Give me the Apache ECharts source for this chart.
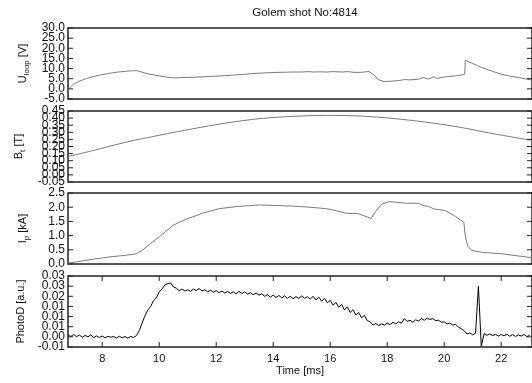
<!DOCTYPE html>
<html>
<head>
<meta charset="utf-8">
<script src="https://cdn.jsdelivr.net/npm/echarts@6/dist/echarts.min.js"></script>
<style>
  html, body { margin: 0; padding: 0; background: #fff; }
  #chart { width: 532px; height: 383px; }
</style>
</head>
<body>
<div id="chart"></div>
<script>
// time axis
const timeMin = 6.8;
const timeMax = 23.08;
const timeTicks = [8, 10, 12, 14, 16, 18, 20, 22];

// U_loop [V]
const uloop = [
  [6.8, -0.3], [6.85, 0.0], [6.99, 2.3], [7.22, 3.9], [7.45, 5.1], [7.69, 6.1], [7.98, 7.0],
  [8.27, 7.7], [8.55, 8.3], [8.85, 8.7], [9.05, 8.9], [9.2, 9.0], [9.32, 8.6], [9.5, 7.8],
  [9.67, 7.2], [10.02, 6.4], [10.25, 5.8], [10.48, 5.4], [10.95, 5.6], [11.35, 5.8], [11.76, 6.1],
  [12.2, 6.4], [12.58, 6.8], [12.9, 7.1], [13.1, 7.3], [13.28, 7.6], [13.5, 7.7], [13.7, 7.9],
  [14.1, 8.1], [14.4, 8.2], [14.7, 8.3], [15.0, 8.3], [15.26, 8.5], [15.4, 8.3], [15.6, 8.4],
  [15.9, 8.3], [16.1, 8.5], [16.43, 8.3], [16.6, 8.5], [16.8, 8.2], [17.0, 8.1], [17.2, 8.3],
  [17.36, 8.6], [17.53, 6.9], [17.71, 4.4], [17.88, 3.6], [18.17, 3.8], [18.4, 4.1], [18.64, 4.6],
  [18.8, 4.4], [19.1, 4.8], [19.28, 5.6], [19.4, 4.9], [19.5, 5.0], [19.63, 6.1], [19.72, 5.2],
  [19.81, 5.3], [19.95, 5.7], [20.16, 6.1], [20.4, 6.4], [20.62, 6.9], [20.72, 7.2], [20.74, 14.1],
  [20.97, 12.7], [21.2, 11.2], [21.44, 9.9], [21.7, 8.6], [22.02, 7.2], [22.3, 6.3], [22.6, 5.6],
  [23.08, 4.3]
];
const uloopTickValues = [-5, 0, 5, 10, 15, 20, 25, 30];
const uloopTickLabels = ['-5.0', '0.0', '5.0', '10.0', '15.0', '20.0', '25.0', '30.0'];

// B_t [T]
const bt = [
  [6.8, 0.129], [7.69, 0.172], [8.85, 0.231], [10.02, 0.28], [11.18, 0.325], [12.35, 0.365],
  [13.51, 0.396], [14.68, 0.412], [15.84, 0.419], [17.0, 0.415], [18.17, 0.398], [19.34, 0.372],
  [20.51, 0.337], [21.67, 0.292], [23.08, 0.243]
];
const btTickValues = [-0.05, 0, 0.05, 0.1, 0.15, 0.2, 0.25, 0.3, 0.35, 0.4, 0.45];
const btTickLabels = ['-0.05', '0.00', '0.05', '0.10', '0.15', '0.20', '0.25', '0.30', '0.35', '0.40', '0.45'];

// I_p [kA]
const ip = [
  [6.8, 0.03], [7.69, 0.17], [8.27, 0.25], [8.85, 0.31], [9.2, 0.36], [9.38, 0.46], [9.67, 0.70],
  [10.02, 0.97], [10.48, 1.36], [10.95, 1.58], [11.53, 1.79], [12.11, 1.95], [12.7, 2.02],
  [13.51, 2.08], [14.1, 2.06], [14.68, 2.04], [15.26, 2.0], [15.84, 1.95], [16.2, 1.88],
  [16.54, 1.79], [17.0, 1.77], [17.36, 1.63], [17.44, 1.61], [17.59, 1.85], [17.83, 2.12],
  [18.06, 2.19], [18.29, 2.18], [18.64, 2.14], [19.1, 2.14], [19.28, 2.05], [19.45, 2.03],
  [19.63, 1.94], [20.04, 1.88], [20.39, 1.68], [20.69, 1.46], [20.74, 0.97], [20.83, 0.62],
  [20.97, 0.48], [21.32, 0.41], [22.02, 0.36], [23.08, 0.22]
];
const ipTickValues = [0, 0.5, 1, 1.5, 2, 2.5];
const ipTickLabels = ['0.0', '0.5', '1.0', '1.5', '2.0', '2.5'];

// PhotoD [a.u.], sampled every 0.1 ms from 6.8 ms
const photoStart = 6.8;
const photoStep = 0.1;
const photo = [
  0.0008, 0.0002, 0.0012, 0.0001, 0.0009, -0.0002, 0.0007, 0.0000, 0.0010, -0.0004,
  0.0005, -0.0003, 0.0004, -0.0005, 0.0003, -0.0002, 0.0002, -0.0006, 0.0003, -0.0004,
  0.0001, -0.0006, 0.0002, -0.0003, 0.0006, 0.0030, 0.0068, 0.0104, 0.0132, 0.0150,
  0.0178, 0.0192, 0.0222, 0.0236, 0.0256, 0.0262, 0.0266, 0.0246, 0.0240, 0.0228,
  0.0236, 0.0226, 0.0232, 0.0224, 0.0236, 0.0228, 0.0238, 0.0226, 0.0232, 0.0222,
  0.0230, 0.0220, 0.0228, 0.0218, 0.0226, 0.0216, 0.0224, 0.0214, 0.0222, 0.0212,
  0.0224, 0.0214, 0.0222, 0.0210, 0.0218, 0.0208, 0.0216, 0.0206, 0.0212, 0.0200,
  0.0208, 0.0196, 0.0206, 0.0194, 0.0204, 0.0192, 0.0202, 0.0190, 0.0200, 0.0188,
  0.0198, 0.0190, 0.0202, 0.0190, 0.0198, 0.0186, 0.0200, 0.0182, 0.0196, 0.0176,
  0.0190, 0.0168, 0.0180, 0.0156, 0.0170, 0.0146, 0.0160, 0.0132, 0.0148, 0.0120,
  0.0134, 0.0108, 0.0120, 0.0094, 0.0106, 0.0080, 0.0074, 0.0058, 0.0066, 0.0056,
  0.0064, 0.0058, 0.0068, 0.0060, 0.0072, 0.0064, 0.0074, 0.0068, 0.0090, 0.0076,
  0.0082, 0.0072, 0.0084, 0.0078, 0.0090, 0.0082, 0.0092, 0.0086, 0.0090, 0.0080,
  0.0082, 0.0072, 0.0074, 0.0064, 0.0068, 0.0058, 0.0062, 0.0048, 0.0040, 0.0030,
  0.0014, 0.0020, 0.0010, 0.0018, 0.0250, -0.0046, 0.0016, 0.0008, 0.0014, 0.0006,
  0.0012, 0.0004, 0.0012, 0.0005, 0.0013, 0.0003, 0.0011, 0.0002, 0.0010, 0.0004,
  0.0012, 0.0001, 0.0008
];
const photoTickValues = [-0.005, 0, 0.005, 0.01, 0.015, 0.02, 0.025, 0.03];
const photoTickLabels = ['-0.01', '0.00', '0.01', '0.01', '0.01', '0.02', '0.03', '0.03'];

const FONT = 'Liberation Sans';
const INK = '#111';
const FRAME = '#222';
const TICK_LEN = 5;
const panelTops = [28, 111, 193, 276];
const panelHeight = 71;
const LABEL_GROUPS = 3; // labels split over several axes so ECharts keeps all of them

const chart = echarts.init(document.getElementById('chart'));

function labelFor(values, labels) {
  return function (v) {
    const i = values.findIndex(x => Math.abs(x - v) < 1e-9);
    return i < 0 ? '' : labels[i];
  };
}

const panels = [
  { name: '{m|U}{s|loop}{m| [V]}', values: uloopTickValues, labels: uloopTickLabels, data: uloop, color: '#7a7a7a' },
  { name: '{m|B}{s|t}{m| [T]}', values: btTickValues, labels: btTickLabels, data: bt, color: '#7a7a7a', smooth: 0.3 },
  { name: '{m|I}{s|p}{m| [kA]}', values: ipTickValues, labels: ipTickLabels, data: ip, color: '#7a7a7a' },
  { name: '{m|PhotoD [a.u.]}', values: photoTickValues, labels: photoTickLabels,
    data: photo.map((v, i) => [photoStart + i * photoStep, v]), color: '#000' }
];

const grid = [], xAxis = [], yAxis = [], series = [];

panels.forEach((p, i) => {
  const last = i === panels.length - 1;
  const yMin = p.values[0], yMax = p.values[p.values.length - 1];
  const fmt = labelFor(p.values, p.labels);

  grid.push({
    left: 68, right: -2, top: panelTops[i], height: panelHeight,
    show: true, borderColor: FRAME, borderWidth: 1.5, backgroundColor: 'transparent'
  });

  xAxis.push({
    type: 'value', gridIndex: i, min: timeMin, max: timeMax, position: 'bottom',
    axisLine: { show: false, onZero: false }, splitLine: { show: false }, axisTick: { show: false },
    axisLabel: { show: last, customValues: timeTicks, margin: 6, color: INK, fontFamily: FONT, fontSize: 11 },
    name: last ? 'Time [ms]' : '', nameLocation: 'middle', nameGap: 18,
    nameTextStyle: { color: INK, fontFamily: FONT, fontSize: 11 }
  });

  for (let g = 0; g < LABEL_GROUPS; g++) {
    yAxis.push({
      type: 'value', gridIndex: i, min: yMin, max: yMax, position: 'left',
      axisLine: { show: false, onZero: false }, splitLine: { show: false }, axisTick: { show: false },
      axisLabel: {
        customValues: p.values.filter((_, k) => k % LABEL_GROUPS === g),
        margin: 3, color: INK, fontFamily: FONT, fontSize: 12,
        showMinLabel: true, showMaxLabel: true, formatter: fmt
      },
      name: g === 0 ? p.name : '', nameLocation: 'middle', nameGap: 37,
      nameTextStyle: {
        color: INK, fontFamily: FONT,
        rich: {
          m: { fontSize: 11, lineHeight: 16, fontFamily: FONT, color: INK },
          s: { fontSize: 8, lineHeight: 8, verticalAlign: 'bottom', fontFamily: FONT, color: INK }
        }
      }
    });
  }

  series.push({
    type: 'line', xAxisIndex: i, yAxisIndex: i * LABEL_GROUPS, data: p.data,
    showSymbol: false, smooth: p.smooth || false, silent: true,
    lineStyle: { color: p.color, width: 1 }, itemStyle: { color: p.color }
  });

  // inward tick marks: [0, y] on left and right edges, [1, t] on bottom and top edges
  const tickData = p.values.map(v => [0, v]).concat(last ? timeTicks.map(t => [1, t]) : []);
  series.push({
    type: 'custom', xAxisIndex: i, yAxisIndex: i * LABEL_GROUPS, silent: true, z: 5,
    encode: { x: [], y: [] },
    data: tickData,
    renderItem: function (params, api) {
      const kind = api.value(0), v = api.value(1);
      const st = { stroke: FRAME, lineWidth: 1 };
      let a, b;
      if (kind === 0) {
        a = api.coord([timeMin, v]); b = api.coord([timeMax, v]);
        return { type: 'group', children: [
          { type: 'line', shape: { x1: a[0], y1: a[1], x2: a[0] + TICK_LEN, y2: a[1] }, style: st },
          { type: 'line', shape: { x1: b[0], y1: b[1], x2: b[0] - TICK_LEN, y2: b[1] }, style: st }
        ] };
      }
      a = api.coord([v, yMin]); b = api.coord([v, yMax]);
      return { type: 'group', children: [
        { type: 'line', shape: { x1: a[0], y1: a[1], x2: a[0], y2: a[1] - TICK_LEN }, style: st },
        { type: 'line', shape: { x1: b[0], y1: b[1], x2: b[0], y2: b[1] + TICK_LEN }, style: st }
      ] };
    }
  });
});

chart.setOption({
  animation: false,
  backgroundColor: '#fff',
  title: {
    text: 'Golem shot No:4814', left: 300, top: 2, textAlign: 'center',
    textStyle: { color: INK, fontFamily: FONT, fontSize: 11.5, fontWeight: 'normal' }
  },
  grid: grid,
  xAxis: xAxis,
  yAxis: yAxis,
  series: series
});
</script>
</body>
</html>
